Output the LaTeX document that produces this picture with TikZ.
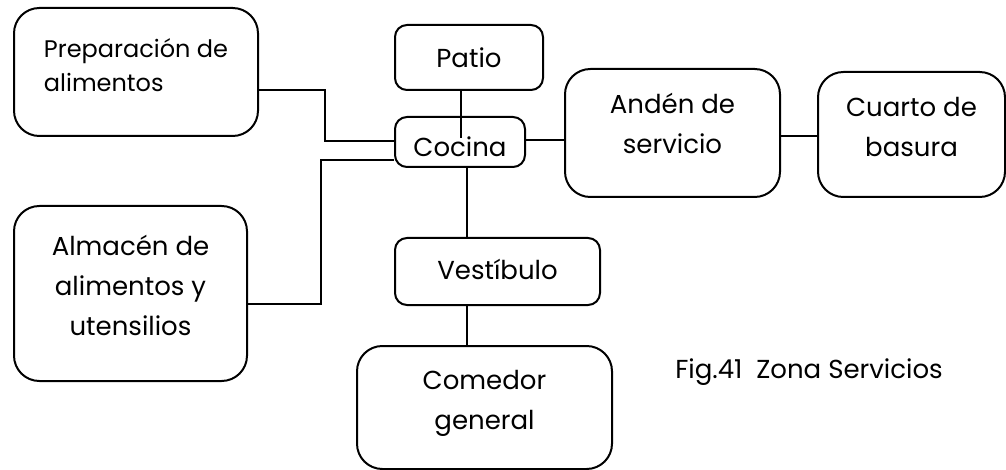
\documentclass[tikz,border=0pt]{standalone}
\usepackage{fontspec}
\setmainfont{Poppins}
\begin{document}
\begin{tikzpicture}
[x=0.75pt,y=-0.75pt,
  boxdecorate/.style={draw,line width=1.5pt,inner sep=0pt},%
  linedecorate/.style={-,line width=1.5pt},%
  textdecorate/.style={font=\fontsize{19.5}{30}\selectfont,align=center,inner sep=0pt}]
\useasboundingbox (0,0) rectangle (1006,470);
%% boxes
\foreach \nodename/\x/\y/\w/\h/\r in {prep/136/72/244/128/19,
  patio/469/57.5/148/65/9, cocina/460/142/130/50/9, anden/672.5/133/215/128/19,
  cuarto/911.5/134.5/187/125/19, almacen/130.5/293.5/233/175/19,
  vestibulo/497.5/271.5/205/67/9, comedor/484.5/407.5/255/123/19} {
  \node (\nodename) at (\x,\y) [boxdecorate,rounded corners=\r pt,
    minimum width=\w*0.75pt,minimum height=\h*0.75pt] {};
}
%% texts
\node (preptext) at (136,65) [textdecorate,align=left,
  font=\fontsize{18}{25}\selectfont] {Preparación de\\alimentos};
\foreach \nodename/\x/\y/\txt in {patiotext/469/58/Patio,
  cocinatext/460/147/Cocina, andentext/672.5/123/{Andén de\\servicio},
  cuartotext/911.5/127/{Cuarto de\\basura},
  almacentext/130.5/285/{Almacén de\\alimentos y\\utensilios},
  vestibulotext/497.5/269/Vestíbulo,
  comedortext/484.5/403/{Comedor\\general},
  figtext/809/372/{Fig.41\ \ Zona Servicios}} {
  \node (\nodename) at (\x,\y) [textdecorate] {\txt};
}
%% edges or lines
\draw[linedecorate] (prep.east |- 0,90) -| (325,141) -- (cocina.west |- 0,141);
\draw[linedecorate] (almacen.east |- 0,304) -| (321,160) -- (cocina.west |- 0,160);
\draw[linedecorate] (patio.south -| 461,0) -- (461,138);
\draw[linedecorate] (cocina.south -| 467,0) -- (vestibulo.north -| 467,0);
\draw[linedecorate] (vestibulo.south -| 467,0) -- (comedor.north -| 467,0);
\draw[linedecorate] (cocina.east |- 0,140) -- (anden.west |- 0,140);
\draw[linedecorate] (anden.east |- 0,136) -- (cuarto.west |- 0,136);
\end{tikzpicture}
\end{document}
